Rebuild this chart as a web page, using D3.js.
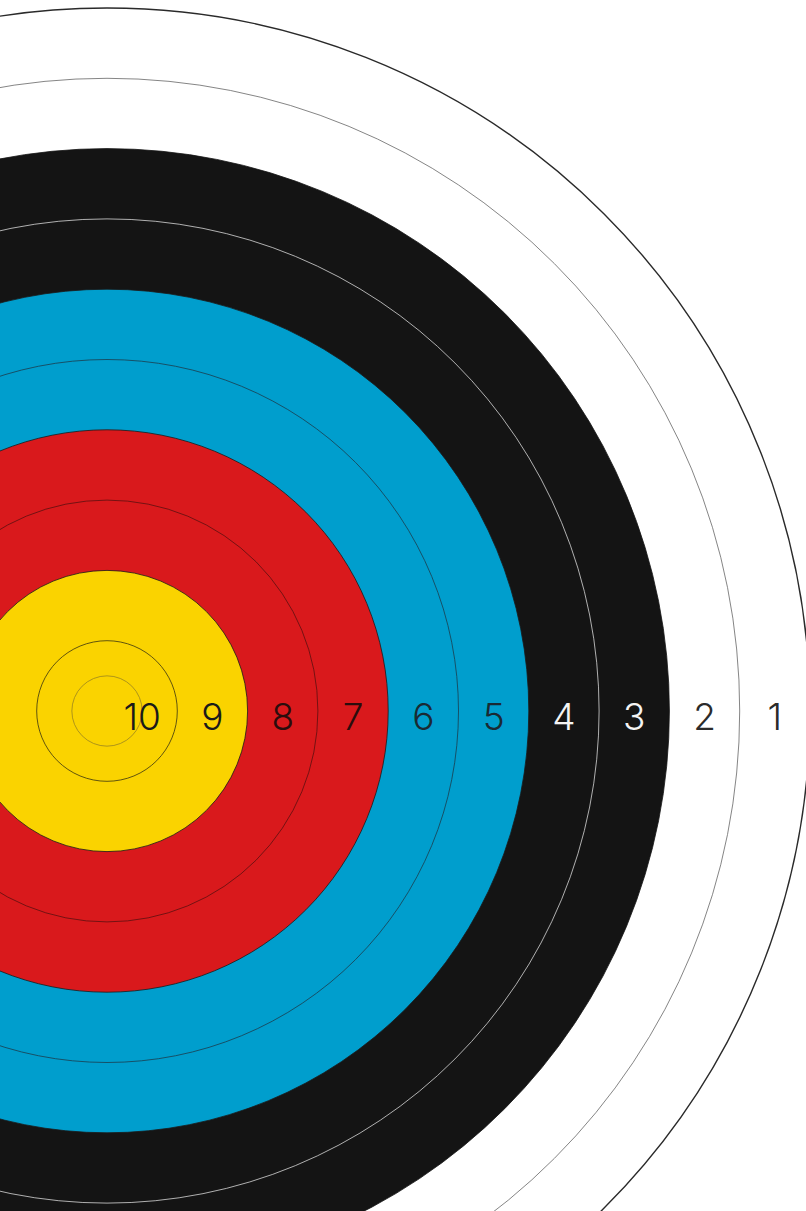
<!DOCTYPE html>
<html>
<head>
<meta charset="utf-8">
<script src="https://cdn.jsdelivr.net/npm/d3@7"></script>
<style>
  body { margin: 0; background: #fff; overflow: hidden; }
</style>
</head>
<body>
<div id="chart"></div>
<script>
let width = 806;
let height = 1211;

// Scores from the outer ring in to the centre
const scores = [1, 2, 3, 4, 5, 6, 7, 8, 9, 10];
const ringFill = ["#ffffff", "#ffffff", "#141414", "#141414", "#009ecd", "#009ecd", "#d9191c", "#d9191c", "#fad300", "#fad300"];
const ringLine = ["#2a2a2a", "#666666", "#141414", "#d8d8d8", "#1a1a1a", "#1c3c4c", "#1a1a1a", "#5a1010", "#1a1a1a", "#3a3410"];
const labelColor = ["#2b2b2b", "#2b2b2b", "#f4f4f4", "#f4f4f4", "#1a2a33", "#1a2a33", "#2a0d0d", "#2a0d0d", "#1a1a1a", "#1a1a1a"];

let cx = 107, cy = 711;

// ring radius scale: 10 rings, 70.3px each
let r = d3.scaleLinear().domain([0, 10]).range([0, 703]);

let svg = d3.select("#chart")
    .append("svg")
    .attr("width", width)
    .attr("height", height)
    .append("g")
    .attr("transform", `translate(${cx}, ${cy})`);

// outer ring first so inner ones sit on top
svg.selectAll(".ring")
    .data(scores)
    .enter()
    .append("circle")
    .attr("class", "ring")
    .attr("r", d => r(11 - d))
    .attr("fill", (d, i) => ringFill[i])
    .attr("stroke", (d, i) => ringLine[i])
    .attr("stroke-width", (d, i) => i == 0 ? 1.4 : 0.8);

// inner X ring
svg.append("circle")
    .attr("r", r(0.5))
    .attr("fill", "none")
    .attr("stroke", "#9a8420")
    .attr("stroke-width", 0.8);

svg.selectAll(".score")
    .data(scores)
    .enter()
    .append("text")
    .attr("class", "score")
    .attr("x", d => r(10.5 - d))
    .attr("y", 19)
    .attr("text-anchor", "middle")
    .attr("font-family", "Inter, 'Liberation Sans', sans-serif")
    .attr("font-weight", 300)
    .attr("font-size", 37)
    .attr("fill", (d, i) => labelColor[i])
    .text(d => d);
</script>
</body>
</html>
